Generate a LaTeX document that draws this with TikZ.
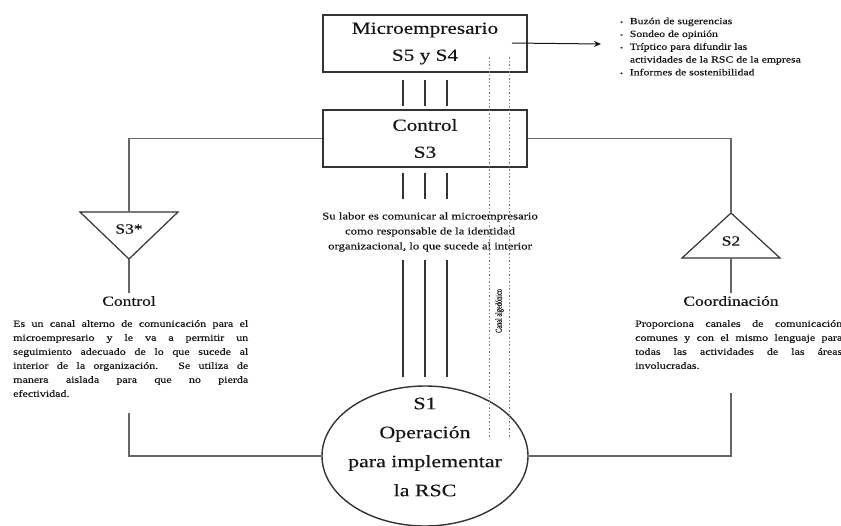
\documentclass[tikz,border=0pt]{standalone}
\usepackage{fontspec}
\setmainfont{Liberation Serif}[FakeStretch=1.25,FakeBold=0.35]
\newfontfamily\canalfont{Liberation Serif}[FakeStretch=0.7,FakeBold=0.3]
\usetikzlibrary{shapes.geometric,arrows.meta,calc}
\definecolor{linegray}{HTML}{666666}
\definecolor{boxedge}{HTML}{333333}
\definecolor{inkc}{HTML}{151515}
\begin{document}
\begin{tikzpicture}[x=1pt,y=-1pt,
  sysbox/.style={draw=boxedge, line width=1.4pt, minimum width=204pt, minimum height=57pt, inner sep=0pt, align=center, font=\fontsize{17}{27}\selectfont, text=inkc},
  conn/.style={draw=linegray, line width=1.4pt},
  chan/.style={draw=boxedge, line width=1.3pt},
  canal/.style={draw=gray, line width=0.6pt, dash pattern=on 1.5pt off 2pt},
  para/.style={font=\fontsize{9.6}{14}\selectfont, text=inkc, align=justify, inner sep=0pt},
  tri/.style={draw=boxedge, line width=1.2pt, line join=miter},
  trilab/.style={font=\fontsize{14}{16}\selectfont, text=inkc, inner sep=0pt},
  lab/.style={font=\fontsize{14}{16}\selectfont, text=inkc, inner sep=3pt}]

\useasboundingbox (0,0) rectangle (841,525);

% main boxes
\node[sysbox] (micro) at (425,43.5) {Microempresario\\S5 y S4};
\node[sysbox] (ctrl) at (425,138.5) {Control\\S3};

% operation ellipse
\node[ellipse, draw=boxedge, line width=1.4pt, minimum width=206pt, minimum height=140pt, inner sep=0pt] (op) at (425,456) {};
\node[font=\fontsize{17.5}{29}\selectfont, text=inkc, align=center, inner sep=0pt] (optxt) at (425,447) {S1\\Operación\\para implementar\\la RSC};

% middle text
\node[font=\fontsize{10.2}{15}\selectfont, text=inkc, align=center] (labor) at (430,232) {Su labor es comunicar al microempresario\\como responsable de la identidad\\organizacional, lo que sucede al interior};

% channels
\foreach \dx in {-22,0,22} {
  \draw[chan] ($(micro.south)+(\dx,7)$) -- ($(ctrl.north)+(\dx,-3)$);
  \draw[chan] ($(ctrl.south)+(\dx,5)$) -- ($(ctrl.south |- labor.north)+(\dx,-10)$);
  \draw[chan] ($(ctrl.south |- labor.south)+(\dx,5)$) -- ($(ctrl.south |- op.north)+(\dx,-8)$);
}

% canal algedonico
\coordinate (ca1) at (489,57);
\coordinate (ca2) at (509,57);
\draw[canal] (ca1) -- (ca1 |- 0,437);
\draw[canal] (ca2) -- (ca2 |- 0,437);
\node[rotate=90, font=\canalfont\fontsize{9}{10}\selectfont, text=inkc, inner sep=0pt] (canal) at (499.5,311) {Canal algedónico};

% arrow and list
\coordinate (arrstart) at (512,43);
\coordinate (arrend) at (601,44);
\draw[line width=1pt, draw=inkc, -{Stealth[length=7pt,width=6pt]}] (arrstart) -- (arrend);
\node[anchor=north west, inner sep=0pt, text=inkc, font=\fontsize{9.4}{12.8}\selectfont] (list) at (620,15) {%
\begin{tabular}{@{}l@{\hspace{7pt}}l@{}}
{\fontsize{6}{6}\selectfont •} & Buzón de sugerencias\\
{\fontsize{6}{6}\selectfont •} & Sondeo de opinión\\
{\fontsize{6}{6}\selectfont •} & Tríptico para difundir las\\
 & actividades de la RSC de la empresa\\
{\fontsize{6}{6}\selectfont •} & Informes de sostenibilidad
\end{tabular}};

% S3* triangle
\coordinate (s3top) at (129,212);
\coordinate (s3apex) at (129,259);
\draw[tri] (80,212) -- (178,212) -- (s3apex) -- cycle;
\node[trilab] (s3) at (129,229) {S3*};

% S2 triangle
\coordinate (s2apex) at (731,213);
\coordinate (s2base) at (731,258);
\draw[tri] (s2apex) -- (780,258) -- (682,258) -- cycle;
\node[trilab] (s2) at (731,241) {S2};

% labels and paragraphs
\node[lab] (ctrllab) at (129,301) {Control};
\node[lab] (coordlab) at (731,301) {Coordinación};
\node[para, text width=235pt, anchor=north west] (leftp) at (13,320) {Es un canal alterno de comunicación para el\linebreak microempresario y le va a permitir un\linebreak seguimiento adecuado de lo que sucede al\linebreak interior de la organización. Se utiliza de\linebreak manera aislada para que no pierda\linebreak efectividad.};
\node[para, text width=207pt, anchor=north west] (rightp) at (635,320) {Proporciona canales de comunicación\linebreak comunes y con el mismo lenguaje para\linebreak todas las actividades de las áreas\linebreak involucradas.};

% loop connectors
\draw[conn] (ctrl.west) -| (s3top);
\draw[conn] (ctrl.east) -| (s2apex);
\draw[conn] (s3apex) -- (ctrllab.north);
\draw[conn] (s2base) -- (coordlab.north);
\coordinate (lb) at (129,413);
\coordinate (rb) at (731,393);
\draw[conn] (lb) |- (op.west);
\draw[conn] (rb) |- (op.east);
\end{tikzpicture}
\end{document}
